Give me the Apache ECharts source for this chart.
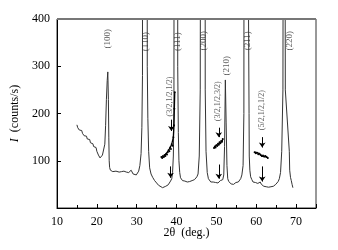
<!DOCTYPE html>
<html><head><meta charset="utf-8">
<script src="https://cdn.jsdelivr.net/npm/echarts@6/dist/echarts.min.js"></script>
<style>html,body{margin:0;padding:0;background:#fff}#c{width:338px;height:250px}</style>
</head><body><div id="c"></div>
<script>
// main XRD pattern (2theta, intensity); values above 400 are off-scale peaks
const twoTheta = [15.0,15.2,15.4,15.6,15.8,16.0,16.2,16.4,16.6,16.8,17.0,17.2,17.4,17.6,17.8,18.0,18.2,18.4,18.6,18.8,19.0,19.2,19.4,19.6,19.8,20.0,20.2,20.4,20.6,20.8,21.0,21.2,21.4,21.6,21.8,22.0,22.2,22.4,22.6,22.75,22.9,23.0,23.1,23.2,23.4,23.6,23.8,24.0,24.2,24.5,24.8,25.0,25.3,25.6,25.9,26.2,26.5,26.8,27.1,27.4,27.7,28.0,28.3,28.6,28.9,29.1,29.3,29.6,29.9,30.2,30.5,30.8,31.1,31.3,31.45,31.5,32.6,32.65,32.8,33.0,33.25,33.6,34.0,34.5,35.0,35.5,36.0,36.5,37.0,37.3,37.6,37.9,38.2,38.5,38.8,39.0,39.2,39.35,39.45,40.25,40.3,40.45,40.6,40.8,41.0,41.2,41.5,41.8,42.1,42.4,42.7,43.0,43.3,43.6,43.9,44.2,44.5,44.8,45.1,45.4,45.7,45.95,46.2,47.1,47.2,47.4,47.7,48.0,48.3,48.6,48.9,49.2,49.5,49.8,50.1,50.4,50.7,51.0,51.3,51.6,51.85,52.05,52.25,52.45,52.65,52.85,53.1,53.4,53.7,54.0,54.3,54.6,54.9,55.2,55.5,55.8,56.1,56.4,56.7,56.9,57.05,57.1,58.2,58.25,58.4,58.6,58.9,59.2,59.5,59.8,60.1,60.4,60.7,61.0,61.3,61.6,61.9,62.2,62.5,62.8,63.1,63.4,63.7,64.0,64.3,64.6,64.9,65.2,65.5,65.8,66.1,66.4,66.7,67.0,67.2,67.3,68.3,68.4,68.6,68.8,69.0,69.2,69.4,69.6];
const intensity = [176,170,172,165,168,162,164,158,160,153,156,150,152,146,148,142,145,138,140,134,136,130,132,126,128,120,118,112,114,106,110,104,112,108,115,135,175,230,270,288,230,150,100,86,80,78,81,77,79,76,78,75,77,76,74,77,75,78,74,76,79,75,77,80,76,72,70,68,70,72,78,90,115,170,280,2000,2000,300,190,120,85,72,65,58,53,48,45,43,44,46,45,49,52,57,62,75,110,220,2000,2000,300,160,100,75,64,60,58,55,57,53,55,52,56,54,58,56,60,62,66,72,110,250,2000,2000,250,120,75,62,58,55,52,55,51,54,50,53,55,58,56,60,70,130,271,180,90,62,56,54,51,53,50,52,54,52,55,58,62,70,90,200,2000,2000,200,110,80,66,60,55,52,54,50,52,49,55,50,48,46,48,45,47,44,46,45,47,46,48,50,52,56,62,75,120,250,2000,2000,250,120,80,65,58,50,43];

// magnified superlattice regions
const s1x = [36.2,36.4,36.6,36.8,37.0,37.2,37.4,37.6,37.8,38.0,38.2,38.4,38.6,38.8,39.0,39.2,39.35,39.45,39.55];
const s1y = [108,106,110,108,112,110,115,113,118,122,120,128,125,135,132,150,175,210,245];
const s2x = [49.4,49.6,49.8,50.0,50.2,50.4,50.6,50.8,51.0,51.2,51.4,51.6];
const s2y = [127,130,128,133,131,136,134,139,137,142,140,146];
const s3x = [59.6,59.9,60.2,60.5,60.8,61.1,61.4,61.7,62.0,62.3,62.6,62.9];
const s3y = [118,116,117,114,115,112,110,111,109,110,108,106];

// arrows: [x, yFrom, yTo]
const arrows = [[38.7,187,163],[38.5,88,64],[50.6,170,150],[50.6,92,62],[61.5,150,128],[61.5,88,56]];

// peak labels: [text, x, y]
const peakLabels = [['(100)',22.75,358],['(110)',32.3,352],['(111)',40.3,352],['(200)',46.8,354],['(210)',52.6,301],['(211)',57.8,354],['(220)',68.5,354]];
const superLabels = [['(3/2,1/2,1/2)',38.4,236],['(3/2,1/2,3/2)',50.5,226],['(5/2,1/2,1/2)',61.3,207]];

const xMin = 10, xMax = 75, xLabelMax = 70;
const yTicks = [100,200,300,400];

const zip = (a,b)=>a.map((v,i)=>[v,b[i]]);
const font = 'Liberation Serif';
const chart = echarts.init(document.getElementById('c'), null, {renderer:'canvas'});
const magStyle = {type:'line', data:null, showSymbol:true, symbol:'circle', symbolSize:2,
  itemStyle:{color:'#000'}, lineStyle:{color:'#000', width:1.3}, animation:false, z:4};
const W = 338, L = 57, R = 22;
const plotW = W - L - R;
const labelRight = R + plotW * (xMax - xLabelMax) / (xMax - xMin);
chart.setOption({
  animation:false,
  grid:[{left:L, right:R, top:19, bottom:42, show:true, borderColor:'#333', borderWidth:1},
        {left:L, right:labelRight, top:19, bottom:42, show:false}],
  xAxis:[{type:'value', gridIndex:0, min:xMin, max:xMax, interval:10,
    axisLine:{show:true, onZero:false, lineStyle:{color:'#000', width:1}},
    axisTick:{show:true, inside:true, length:4, lineStyle:{color:'#000'}},
    minorTick:{show:true, splitNumber:2, length:3, lineStyle:{color:'#000'}},
    splitLine:{show:false}, axisLabel:{show:false},
    name:'2θ  (deg.)', nameLocation:'middle', nameGap:19,
    nameTextStyle:{color:'#000', fontFamily:font, fontSize:12}},
   {type:'value', gridIndex:1, min:xMin, max:xLabelMax, interval:10,
    axisLine:{show:false}, axisTick:{show:false}, splitLine:{show:false},
    axisLabel:{margin:8, color:'#000', fontFamily:font, fontSize:12}}],
  yAxis:[{type:'value', gridIndex:0, min:0, max:400, interval:100,
    axisLine:{show:true, lineStyle:{color:'#000', width:1}},
    axisTick:{show:true, inside:true, length:4, lineStyle:{color:'#000'}},
    splitLine:{show:false},
    axisLabel:{margin:7, color:'#000', fontFamily:font, fontSize:12,
      formatter:function(v){ return yTicks.indexOf(v)>=0 ? String(v) : ''; }},
    name:'{i|I}  (counts/s)', nameLocation:'middle', nameGap:34, nameRotate:90,
    nameTextStyle:{color:'#000', fontFamily:font, fontSize:12,
      rich:{i:{fontStyle:'italic', fontFamily:font, fontSize:12, color:'#000'}}}},
   {type:'value', gridIndex:1, min:0, max:400, show:false}],
  graphic:[{type:'line', shape:{x1:L, y1:19, x2:W-R, y2:19}, style:{stroke:'#777', lineWidth:2}, z:10}],
  series:[
    {type:'line', data:zip(twoTheta,intensity), showSymbol:false, clip:true,
     lineStyle:{color:'#333', width:1}, z:3,
     markLine:{silent:true, symbol:['none','arrow'], symbolSize:5, animation:false,
       label:{show:false}, lineStyle:{color:'#000', width:1, type:'solid'},
       data:arrows.map(a=>[{coord:[a[0],a[1]]},{coord:[a[0],a[2]]}])}},
    Object.assign({}, magStyle, {data:zip(s1x,s1y)}),
    Object.assign({}, magStyle, {data:zip(s2x,s2y)}),
    Object.assign({}, magStyle, {data:zip(s3x,s3y)}),
    {type:'scatter', symbolSize:0, data:peakLabels.map(p=>({value:[p[1],p[2]], name:p[0]})),
     label:{show:true, position:'inside', rotate:90, formatter:p=>p.name,
       fontFamily:font, fontSize:9, color:'#333'}, z:5},
    {type:'scatter', symbolSize:0, data:superLabels.map(p=>({value:[p[1],p[2]], name:p[0]})),
     label:{show:true, position:'inside', rotate:90, formatter:p=>p.name,
       fontFamily:font, fontSize:8, color:'#333'}, z:5}
  ]
});
</script></body></html>
